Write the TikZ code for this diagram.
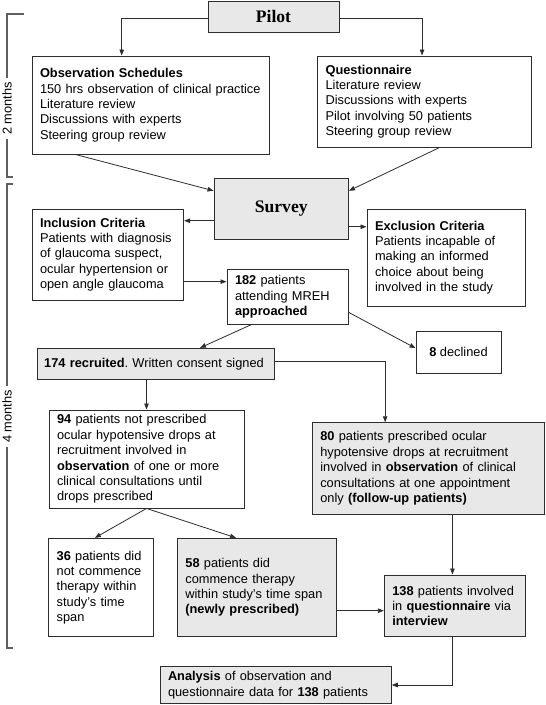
\documentclass[tikz,border=0pt]{standalone}
\usepackage{fontspec}
\setmainfont{Liberation Sans}
\newfontfamily\titlefont{Liberation Serif}
\usetikzlibrary{arrows.meta}
\definecolor{grayf}{RGB}{232,232,232}
\definecolor{boxc}{RGB}{45,45,45}
\definecolor{brkc}{RGB}{95,95,95}
\begin{document}
\frenchspacing
\begin{tikzpicture}[x=1pt,y=-1pt,
  box/.style={draw=boxc, line width=0.9pt, fill=white, inner xsep=8pt, inner ysep=0pt,
    align=left, font=\fontsize{12.8}{15.4}\selectfont, text=black},
  gbox/.style={box, fill=grayf},
  ttl/.style={box, fill=grayf, align=center, font=\titlefont\bfseries\fontsize{17.6}{20}\selectfont},
  arr/.style={draw=boxc, line width=0.8pt, -{Triangle[length=6pt,width=4.5pt]}},
  brk/.style={draw=brkc, line width=1.3pt},
  months/.style={rotate=90, font=\fontsize{12.8}{15.4}\selectfont, inner sep=0pt, text=black}]
\useasboundingbox (0,0) rectangle (546,705);

% time brackets
\node[months] (m2) at (7,108.5) {2 months};
\node[months] (m4) at (7,416.5) {4 months};
\draw[brk] (24,14) -- (7,14) -- ([yshift=4pt]m2.east);
\draw[brk] ([yshift=-4pt]m2.west) -- (7,177) -- (12.7,177);
\draw[brk] (12.7,184) -- (7,184) -- ([yshift=4pt]m4.east);
\draw[brk] ([yshift=-4pt]m4.west) -- (7,648) -- (12.7,648);

% boxes
\node[ttl, minimum width=131pt, minimum height=31pt] (pilot) at (273.5,16.5) {Pilot};
\node[box, minimum width=237pt, minimum height=98.3pt, text width=221pt] (obs) at (150.5,105.15)
  {\textbf{Observation Schedules}\\150 hrs observation of clinical practice\\Literature review\\Discussions with experts\\Steering group review};
\node[box, minimum width=213.9pt, minimum height=91.3pt, text width=197.9pt] (quest) at (424.55,101.65)
  {\textbf{Questionnaire}\\Literature review\\Discussions with experts\\Pilot involving 50 patients\\Steering group review};
\node[ttl, minimum width=134.5pt, minimum height=61.5pt] (survey) at (281.25,208.75) {Survey};
\node[box, minimum width=151.7pt, minimum height=91.3pt, text width=135.7pt] (incl) at (107.85,254.65)
  {\textbf{Inclusion Criteria}\\Patients with diagnosis\\of glaucoma suspect,\\ocular hypertension or\\open angle glaucoma};
\node[box, minimum width=158pt, minimum height=97pt, text width=142pt] (excl) at (446,257.5)
  {\textbf{Exclusion Criteria}\\Patients incapable of\\making an informed\\choice about being\\involved in the study};
\node[box, minimum width=121.5pt, minimum height=55pt, text width=105.5pt] (p182) at (287.75,296.8)
  {\textbf{182} patients\\attending MREH\\\textbf{approached}};
\node[box, align=center, minimum width=85pt, minimum height=42.3pt] (decl) at (458.5,352.15)
  {\textbf{8} declined};
\node[gbox, inner xsep=7pt, minimum width=237.6pt, minimum height=31pt, text width=223.6pt] (recr) at (156,363.8)
  {\mbox{\textbf{174 recruited}. Written consent signed}};
\node[box, minimum width=195pt, minimum height=98pt, text width=179pt] (p94) at (146.5,459)
  {\textbf{94} patients not prescribed\\ocular hypotensive drops at\\recruitment involved in\\\textbf{observation} of one or more\\clinical consultations until\\drops prescribed};
\node[gbox, minimum width=231.7pt, minimum height=91.3pt, text width=215.7pt] (p80) at (428.15,468.35)
  {\textbf{80} patients prescribed ocular\\hypotensive drops at recruitment\\involved in \textbf{observation} of clinical\\consultations at one appointment\\only \textbf{(follow-up patients)}};
\node[box, minimum width=104.3pt, minimum height=98.4pt, text width=88.3pt] (p36) at (100.85,587.5)
  {\textbf{36} patients did\\not commence\\therapy within\\study’s time\\span};
\node[gbox, minimum width=158.9pt, minimum height=98.4pt, text width=142.9pt] (p58) at (256.85,587.5)
  {\textbf{58} patients did\\commence therapy\\within study’s time span\\\textbf{(newly prescribed)}};
\node[gbox, minimum width=140.9pt, minimum height=61.7pt, text width=124.9pt] (p138) at (454.75,605.85)
  {\textbf{138} patients involved\\in \textbf{questionnaire} via\\\textbf{interview}};
\node[gbox, minimum width=231.3pt, minimum height=36.6pt, text width=215.3pt] (anal) at (275.65,685)
  {\textbf{Analysis} of observation and\\questionnaire data for \textbf{138} patients};

% connectors
\draw[arr] ([yshift=-2pt]pilot.west) -| ([xshift=-28.8pt]obs.north);
\draw[arr] ([yshift=-2pt]pilot.east) -| ([xshift=-2.5pt]quest.north);
\draw[arr] ([xshift=-74pt]obs.south) -- ([yshift=18pt]survey.west);
\draw[arr] ([xshift=14.5pt]quest.south) -- ([yshift=18pt]survey.east);
\coordinate (s1) at ([yshift=-12pt]survey.west);
\draw[arr] (s1) -- (s1 -| incl.east);
\coordinate (s2) at ([yshift=-18pt]survey.east);
\draw[arr] (s2) -- (s2 -| excl.west);
\coordinate (i1) at ([yshift=-27pt]incl.east);
\draw[arr] (i1) -- (i1 -| p182.west);
\draw[arr] ([xshift=-36.7pt]p182.south) -- ([xshift=44pt]recr.north);
\draw[arr] ([yshift=-15.7pt]p182.east) -- ([yshift=4pt]decl.west);
\draw[arr] (recr.south -| p94.north) -- (p94.north);
\draw[arr] ([yshift=2pt]recr.east) -| ([xshift=-43pt]p80.north);
\draw[arr] (p94.south) -- ([xshift=-6pt]p36.north);
\draw[arr] (p94.south) -- ([xshift=-20.8pt]p58.north);
\coordinate (f1) at ([yshift=-23.2pt]p58.east);
\draw[arr] (f1) -- (f1 -| p138.west);
\coordinate (e1) at ([xshift=24.3pt]p80.south);
\draw[arr] (e1) -- (e1 |- p138.north);
\draw[arr] (e1 |- p138.south) |- (anal.east);
\end{tikzpicture}
\end{document}
